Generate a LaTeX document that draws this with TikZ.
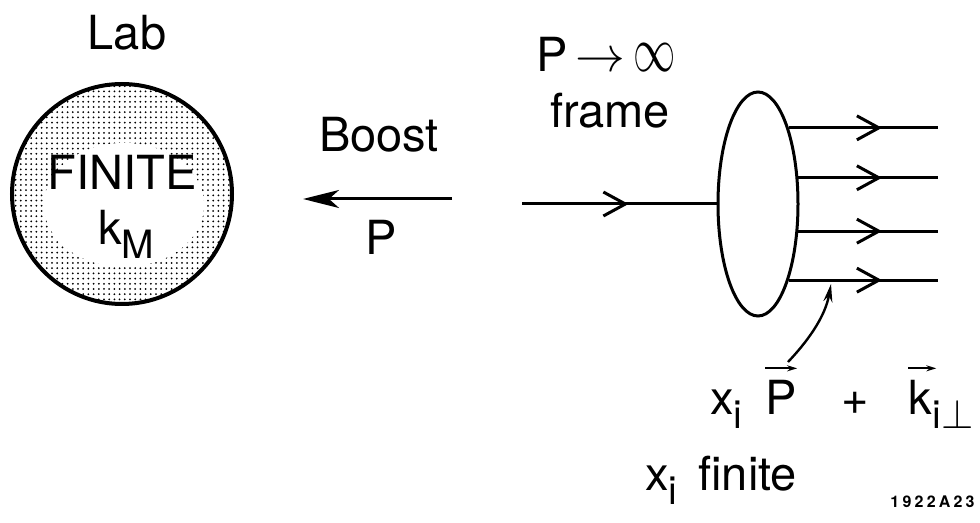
\documentclass[tikz,border=0pt]{standalone}
\usepackage{fontspec}
\setmainfont{TeX Gyre Heros}
\newfontfamily\etiqfont[LetterSpace=20]{TeX Gyre Heros}
\usetikzlibrary{positioning,arrows.meta,shapes.geometric,patterns.meta,decorations.markings}
\newcommand{\lowidx}[1]{\raisebox{-7pt}{\fontsize{19.5}{20}\selectfont #1}}
\tikzdeclarepattern{
  name=punteado,
  type=uncolored,
  bounding box={(-1.3pt,-1.3pt) and (1.3pt,1.3pt)},
  tile size={(2.6pt,2.6pt)},
  code={\pgfpathcircle{\pgfpointorigin}{0.5pt}\pgfusepath{fill}}
}

\begin{document}
\begin{tikzpicture}[
  x=0.5pt, y=0.5pt,
  letra/.style={font=\fontsize{23.5}{28}\selectfont, inner sep=0pt, anchor=base},
  linea/.style={line width=1.5pt},
  flecha/.style={linea, -{Stealth[length=18pt, width=9pt, inset=5pt]}},
  gancho/.style={line width=1.2pt, -{Stealth[length=9pt, width=4.5pt]}},
  vec/.style={line width=0.9pt, -{Stealth[length=5pt, width=3pt]}},
  chevron/.style={postaction={decorate}, decoration={markings, mark=at position #1 with {\arrow{Straight Barb[length=11pt, width=12pt]}}}},
  chevron/.default=-28pt
]
\useasboundingbox (0,0) rectangle (980,-523);

\node[circle, draw, line width=2pt, minimum size=110pt, inner sep=0pt, pattern=punteado, pattern color=black] (lab) at (122,-194) {};
\fill[white] (124,-205) ellipse [x radius=80, y radius=62];
\node[letra] (labt) at (127,-50) {Lab};
\node[letra] (fin) at (122,-190) {FINITE};
\node[letra] (km) at (126,-245) {k\lowidx{M}};

\node[letra] (boost) at (379,-152) {Boost};
\node[letra] (pb) at (381,-255) {P};
\coordinate (bst) at (452,-199);
\coordinate (bnd) at (303,-199);
\draw[flecha] (bst) -- (bnd);

\node[letra] (pinf) at (606,-72) {P\,$\rightarrow$\,\scalebox{0.85}[1.3]{$\infty$}};
\node[letra] (frame) at (610,-128) {frame};

\node[ellipse, draw, linea, minimum width=40pt, minimum height=112pt, inner sep=0pt] (ifr) at (758,-204) {};
\coordinate (pin) at (522,-204);
\draw[linea, chevron=-44pt] (pin) -- (ifr.west);

\coordinate (rend) at (938,-204);
\foreach \a in {68,33,-34,-68}
  \draw[linea, chevron] (ifr.\a) -- (ifr.\a -| rend);

\coordinate (hook) at (831,-284);
\coordinate (hookstart) at (788,-362);
\draw[gancho] (hookstart) .. controls (806,-343) and (825,-318) .. (hook);

\node[letra, anchor=base west] (xi) at (710,-415) {x\lowidx{i}};
\node[letra, anchor=base west] (pv) at (765,-415) {P};
\node[letra] (plus) at (855,-415) {+};
\node[letra, anchor=base west] (kv) at (908,-415) {k};
\node[letra, anchor=base west] (ksub) at (kv.base east) {\lowidx{i$\perp$}};
\draw[vec] ([yshift=6pt]pv.north west) -- ([yshift=6pt]pv.north east);
\draw[vec] ([yshift=6pt]kv.north west) -- ([yshift=6pt,xshift=2pt]kv.north east);

\node[letra, anchor=base west] (xf) at (645,-490) {x\lowidx{i}};
\node[letra, anchor=base west] (finite) at (698,-490) {finite};

\node[anchor=base east, inner sep=0pt, font=\etiqfont\bfseries\fontsize{8}{9}\selectfont] (tag) at (975,-508) {1922A23};
\end{tikzpicture}
\end{document}
